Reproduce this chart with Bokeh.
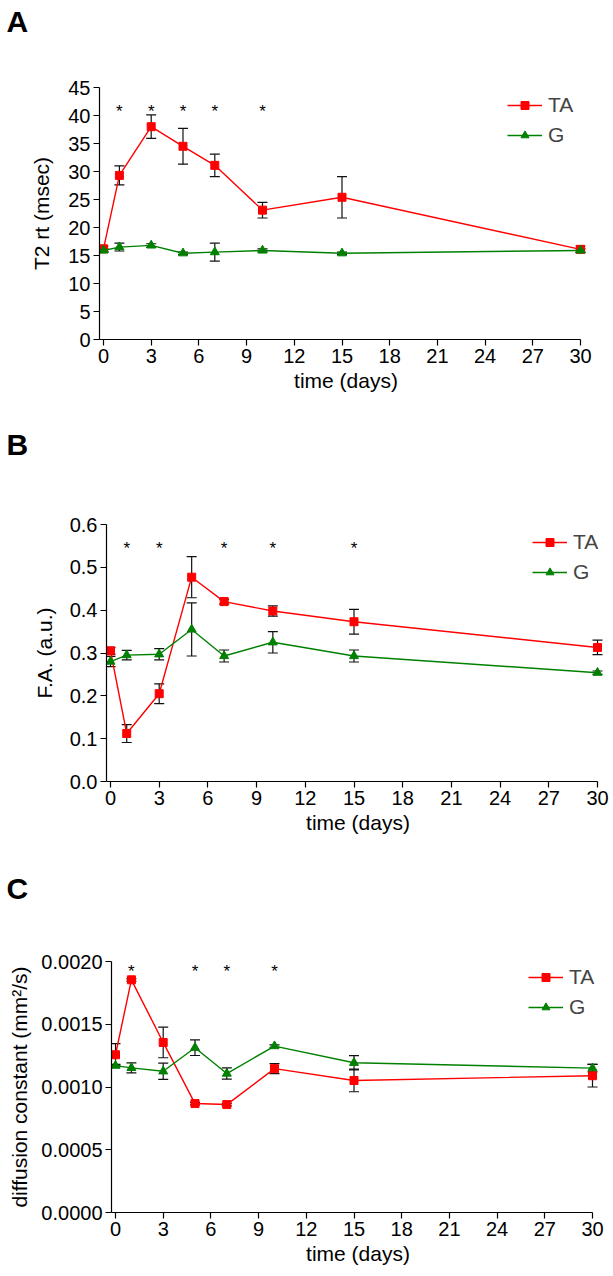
from bokeh.plotting import figure
from bokeh.models import (FixedTicker, NumeralTickFormatter, Whisker, TeeHead, ColumnDataSource,
                          Legend, LegendItem, Title, Range1d)
from bokeh.core.properties import value
from bokeh.embed import file_html
from bokeh.resources import INLINE

# ---------------- data ----------------
days = [0, 1, 3, 5, 7, 10, 15, 30]
x_ticks = [0, 3, 6, 9, 12, 15, 18, 21, 24, 27, 30]

# Panel A: T2 relaxation time (msec)
t2_ta = [16.2, 29.3, 38.0, 34.5, 31.1, 23.1, 25.4, 16.1]
t2_ta_err = [0.5, 1.7, 2.1, 3.2, 2.0, 1.4, 3.7, 0.6]
t2_g = [15.9, 16.5, 16.8, 15.4, 15.6, 15.9, 15.4, 15.9]
t2_g_err = [0.3, 0.7, 0.3, 0.2, 1.6, 0.3, 0.2, 0.3]
t2_sig_days = [1, 3, 5, 7, 10]
t2_yticks = [0, 5, 10, 15, 20, 25, 30, 35, 40, 45]

# Panel B: fractional anisotropy (a.u.)
fa_ta = [0.305, 0.112, 0.205, 0.477, 0.420, 0.398, 0.373, 0.313]
fa_ta_err = [0.008, 0.021, 0.023, 0.048, 0.006, 0.012, 0.029, 0.017]
fa_g = [0.280, 0.295, 0.297, 0.355, 0.293, 0.325, 0.293, 0.254]
fa_g_err = [0.012, 0.011, 0.013, 0.062, 0.014, 0.025, 0.014, 0.004]
fa_sig_days = [1, 3, 7, 10, 15]
fa_yticks = [0.0, 0.1, 0.2, 0.3, 0.4, 0.5, 0.6]

# Panel C: diffusion constant (mm^2/s)
dc_ta = [0.001257, 0.001854, 0.001355, 0.000868, 0.000860, 0.001146, 0.001052, 0.001090]
dc_ta_err = [0.000088, 0.00001, 0.000122, 0.00001, 0.00001, 0.00004, 0.00009, 0.00009]
dc_g = [0.001170, 0.001152, 0.001125, 0.001313, 0.001107, 0.001326, 0.001193, 0.001150]
dc_g_err = [0.00001, 0.00004, 0.000065, 0.000062, 0.000045, 0.00001, 0.000057, 0.00003]
dc_sig_days = [1, 5, 7, 10]
dc_yticks = [0.0, 0.0005, 0.0010, 0.0015, 0.0020]

RED = "#ff0000"
GREEN = "#008000"
FONT = "Liberation Sans"
PAGE_W = 613


def make_panel(letter, ta, ta_err, g, g_err, sig_days, sig_y, yticks, y_fmt, y_label, ylab_standoff,
               fig_top, fig_bottom, f_left, f_right, f_top, f_bot, leg_left, leg_bottom, let_bottom):
    pad_l, pad_r = 4, 12
    frame_w = f_right - f_left
    ppd = frame_w / 30.0
    border_left = f_left - pad_l
    p = figure(frame_width=frame_w + pad_l + pad_r, frame_height=f_bot - f_top,
               output_backend="svg", toolbar_location=None,
               x_range=Range1d(-pad_l / ppd, 30 + pad_r / ppd),
               y_range=Range1d(yticks[0], yticks[-1]),
               min_border_left=border_left, min_border_right=PAGE_W - f_right - pad_r,
               min_border_top=f_top - fig_top, min_border_bottom=fig_bottom - f_bot)
    p.outline_line_color = None
    p.xgrid.visible = False
    p.ygrid.visible = False

    for ax in (p.xaxis[0], p.yaxis[0]):
        ax.axis_line_color = "black"
        ax.axis_line_width = 1.2
        ax.major_tick_line_color = "black"
        ax.major_tick_line_width = 1.2
        ax.major_tick_out = 6
        ax.major_tick_in = 0
        ax.minor_tick_line_color = None
        ax.major_label_text_font = FONT
        ax.major_label_text_font_size = "20px"
        ax.major_label_text_color = "black"
        ax.axis_label_text_font = FONT
        ax.axis_label_text_font_size = "21px"
        ax.axis_label_text_font_style = "normal"
        ax.axis_label_text_color = "black"
        ax.major_label_standoff = 3

    p.xaxis.ticker = FixedTicker(ticks=x_ticks)
    p.xaxis.bounds = (-pad_l / ppd, 30)
    p.xaxis.axis_label = "time (days)"
    p.xaxis.axis_label_standoff = 3
    p.yaxis.ticker = FixedTicker(ticks=yticks)
    p.yaxis.formatter = NumeralTickFormatter(format=y_fmt)
    p.yaxis.axis_label = y_label
    p.yaxis.axis_label_standoff = ylab_standoff

    src = ColumnDataSource(dict(
        x=days, ta=ta, g=g,
        ta_lo=[v - e for v, e in zip(ta, ta_err)], ta_hi=[v + e for v, e in zip(ta, ta_err)],
        g_lo=[v - e for v, e in zip(g, g_err)], g_hi=[v + e for v, e in zip(g, g_err)],
    ))
    for lo, hi in (("ta_lo", "ta_hi"), ("g_lo", "g_hi")):
        w = Whisker(base="x", lower=lo, upper=hi, source=src, dimension="height",
                    line_color="#111111", line_width=1.2,
                    upper_head=TeeHead(size=10, line_color="#111111", line_width=1.2),
                    lower_head=TeeHead(size=10, line_color="#111111", line_width=1.2))
        p.add_layout(w)

    ta_line = p.line("x", "ta", source=src, line_color=RED, line_width=1.4)
    ta_pts = p.scatter("x", "ta", source=src, marker="square", size=8,
                       fill_color=RED, line_color=RED)
    g_line = p.line("x", "g", source=src, line_color=GREEN, line_width=1.4)
    g_pts = p.scatter("x", "g", source=src, marker="triangle", size=9,
                      fill_color=GREEN, line_color=GREEN)

    p.text(x=sig_days, y=[sig_y] * len(sig_days), text=["*"] * len(sig_days),
           text_font=value(FONT), text_font_size="17px", text_color="black",
           text_align="center", text_baseline="middle")

    legend = Legend(items=[LegendItem(label="TA", renderers=[ta_line, ta_pts]),
                           LegendItem(label="G", renderers=[g_line, g_pts])],
                    location=(leg_left - (f_left - pad_l), f_bot - leg_bottom),
                    label_text_font=FONT, label_text_font_size="21px",
                    glyph_width=35, glyph_height=20, label_height=20, label_standoff=6,
                    spacing=6, padding=0, margin=0,
                    border_line_color=None, background_fill_alpha=0)
    p.add_layout(legend)

    # spacer (nearest the frame) then the panel letter above it
    gap = f_top - (let_bottom + 6)
    spacer = Title(text="\u00a0", text_font_size="1px", standoff=max(gap - 4, 0))
    p.add_layout(spacer, "above")
    ttl = Title(text=letter, align="left", vertical_align="bottom", offset=-border_left + 6,
                standoff=0, text_font=FONT, text_font_size="30px", text_font_style="bold",
                text_color="black")
    p.add_layout(ttl, "above")
    return p


pa = make_panel("A", t2_ta, t2_ta_err, t2_g, t2_g_err, t2_sig_days, 40.7, t2_yticks, "0",
                "T2 rt (msec)", 12, 0, 420, 103, 580, 87, 339, 507, 147, 30)
pb = make_panel("B", fa_ta, fa_ta_err, fa_g, fa_g_err, fa_sig_days, 0.543, fa_yticks, "0.0",
                "F.A. (a.u.)", 11, 420, 840, 110, 597, 524, 781, 532, 584, 453)
pc = make_panel("C", dc_ta, dc_ta_err, dc_g, dc_g_err, dc_sig_days, 0.00192, dc_yticks, "0.0000",
                "diffusion constant (mm\u00b2/s)", 7, 840, 1275, 115, 592, 961, 1212, 528, 1019, 897)

open("out.html", "w").write(file_html([pa, pb, pc], INLINE))
